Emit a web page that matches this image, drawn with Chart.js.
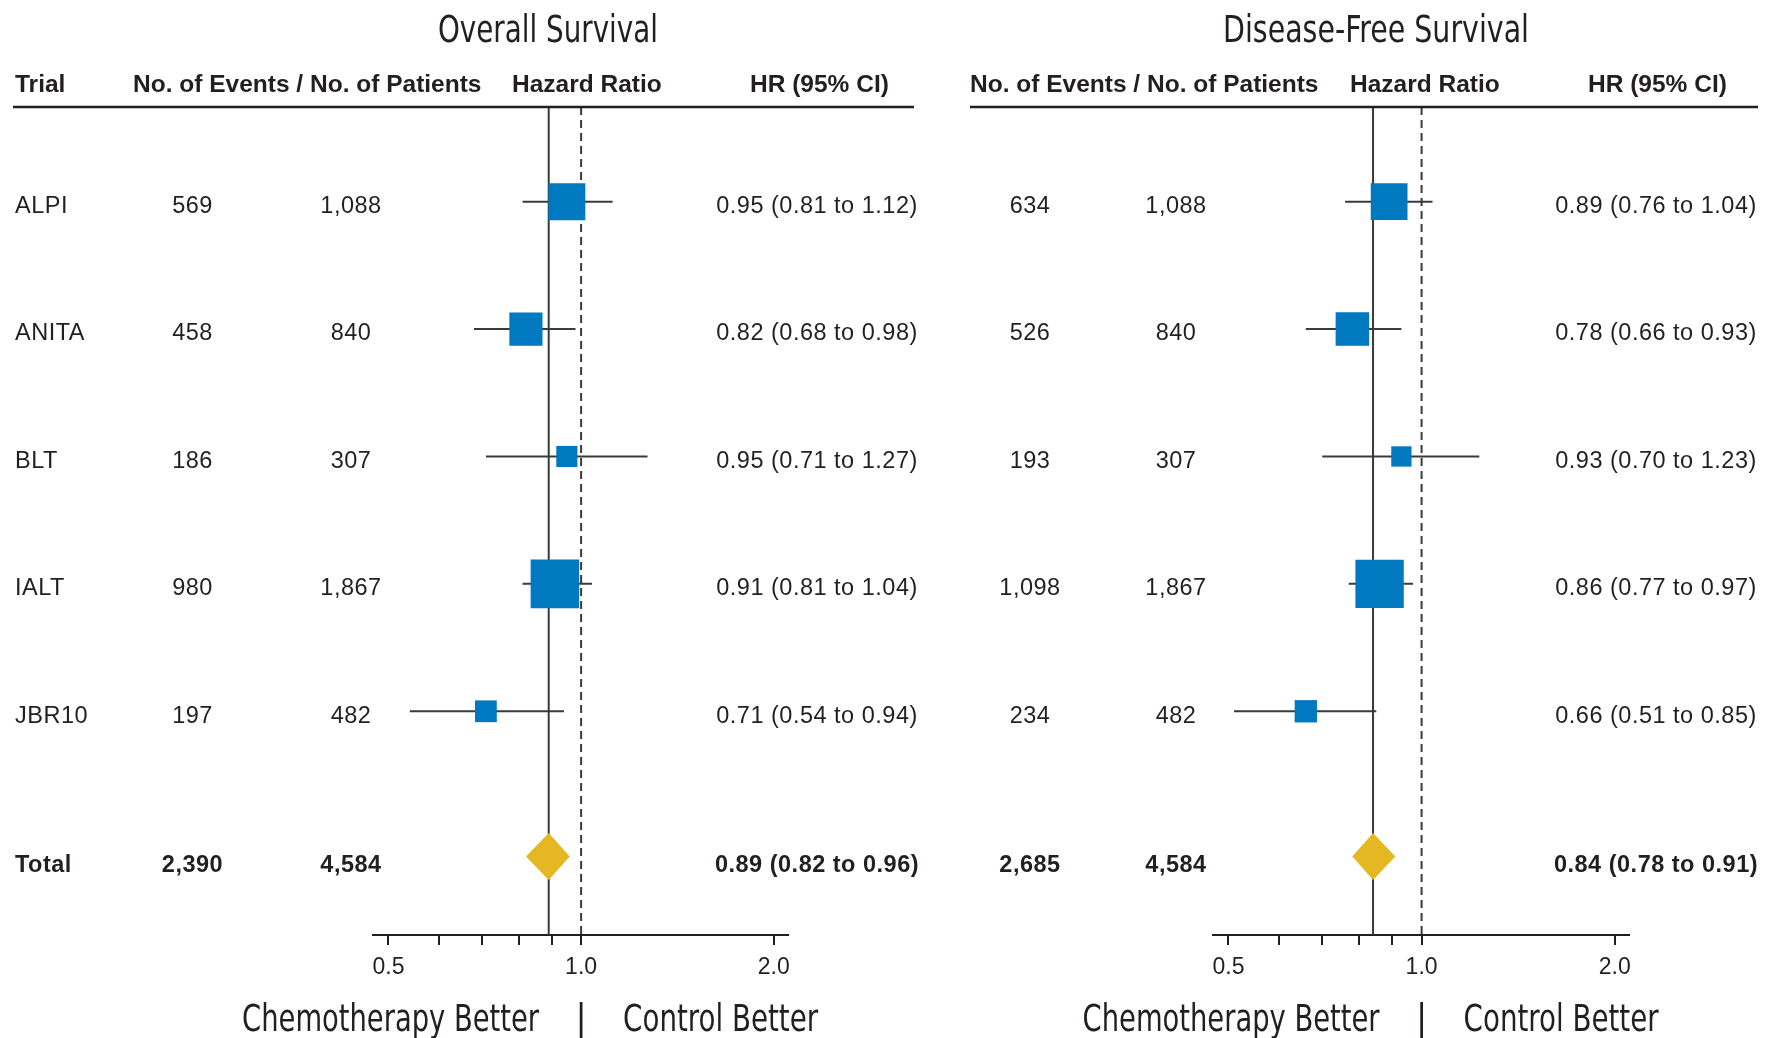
<!DOCTYPE html>
<html>
<head>
<meta charset="utf-8">
<title>Adjuvant chemotherapy meta-analysis: forest plots</title>
<script src="https://cdn.jsdelivr.net/npm/chart.js@4.4.1/dist/chart.umd.min.js"></script>
<style>
  html, body { margin: 0; padding: 0; background: #ffffff; }
  #page { position: relative; width: 1765px; height: 1038px; overflow: hidden; background: #fff; }
  .panel { position: absolute; top: 0; }
</style>
</head>
<body>
<div id="page">
  <canvas id="osCanvas" class="panel" width="940" height="1038" style="left:0px"></canvas>
  <canvas id="dfsCanvas" class="panel" width="825" height="1038" style="left:940px"></canvas>
</div>
<script>
// ---------------- data ----------------
const trials = ['ALPI', 'ANITA', 'BLT', 'IALT', 'JBR10'];
const patients = [1088, 840, 307, 1867, 482];
const totalPatients = 4584;

// Overall survival
const osEvents = [569, 458, 186, 980, 197];
const osHR     = [0.95, 0.82, 0.95, 0.91, 0.71];
const osLow    = [0.81, 0.68, 0.71, 0.81, 0.54];
const osHigh   = [1.12, 0.98, 1.27, 1.04, 0.94];
const osTotalEvents = 2390;
const osTotalHR = [0.89, 0.82, 0.96];   // estimate, lower, upper

// Disease-free survival
const dfsEvents = [634, 526, 193, 1098, 234];
const dfsHR     = [0.89, 0.78, 0.93, 0.86, 0.66];
const dfsLow    = [0.76, 0.66, 0.70, 0.77, 0.51];
const dfsHigh   = [1.04, 0.93, 1.23, 0.97, 0.85];
const dfsTotalEvents = 2685;
const dfsTotalHR = [0.84, 0.78, 0.91];

// hazard-ratio axis
const axisTicks  = [0.5, 0.6, 0.7, 0.8, 0.9, 1.0, 2.0];
const axisLabels = [0.5, 1.0, 2.0];

// ---------------- styling / layout ----------------
const INK = '#231f20';
const WHISKER = '#3a3a3a';
const BLUE = '#0079c1';
const GOLD = '#e5b823';
const SANS = '"Liberation Sans", Arial, Helvetica, sans-serif';
const NARROW = '"Liberation Sans Narrow", "Arial Narrow", "DejaVu Sans Condensed", ' + SANS;

const PLOT_TOP = 107;          // header rule / top of plotting area
const AXIS_BAND = 103;         // height reserved under the axis line
const Y_MIN = -0.743, Y_MAX = 5.756;
const X_MIN = 0.473, X_MAX = 2.105;
const TOTAL_GAP = 1.14;        // extra spacing before the pooled row
const DIAMOND_HALF = 0.185;    // half height of the pooled diamond (row units)

function fmtInt(n) { return n.toLocaleString('en-US'); }
function fmtHR(h, lo, hi) { return h.toFixed(2) + ' (' + lo.toFixed(2) + ' to ' + hi.toFixed(2) + ')'; }

function capText(ctx, text, x, cy, size, align, maxW) {
  ctx.textAlign = align;
  ctx.textBaseline = 'alphabetic';
  const y = cy + 0.358 * size;
  if (maxW) ctx.fillText(text, x, y, maxW); else ctx.fillText(text, x, y);
}

// Table text, titles and direction labels drawn around the plot
const tablePlugin = {
  id: 'forestTable',
  afterDraw(chart, args, o) {
    const ctx = chart.ctx;
    const ys = chart.scales.y, xs = chart.scales.x;
    const off = o.offset;
    ctx.save();
    ctx.fillStyle = INK;

    // panel title
    ctx.font = '37px ' + NARROW;
    capText(ctx, o.title, o.titleX - off, 28.3, 37, 'center', o.titleW);

    // column headers
    ctx.font = 'bold 24.5px ' + SANS;
    o.headers.forEach(h => capText(ctx, h[0], h[1] - off, 82.8, 24.5, 'left'));

    // header rule
    ctx.strokeStyle = INK;
    ctx.lineWidth = 2.5;
    ctx.beginPath();
    ctx.moveTo(o.rule[0] - off, PLOT_TOP);
    ctx.lineTo(o.rule[1] - off, PLOT_TOP);
    ctx.stroke();

    // trial rows
    ctx.font = '23.5px ' + SANS;
    ctx.letterSpacing = '0.5px';
    trials.forEach((t, i) => {
      const cy = ys.getPixelForValue(i) + 3;
      if (o.nameX !== null) capText(ctx, t, o.nameX - off, cy, 23.5, 'left');
      capText(ctx, fmtInt(o.events[i]), o.eventsX - off, cy, 23.5, 'center');
      capText(ctx, fmtInt(patients[i]), o.patientsX - off, cy, 23.5, 'center');
      capText(ctx, fmtHR(o.hr[i], o.low[i], o.high[i]), o.hrX - off, cy, 23.5, 'center');
    });

    // pooled row
    ctx.font = 'bold 23.5px ' + SANS;
    const ty = ys.getPixelForValue(o.totalPos) + 7;
    if (o.nameX !== null) capText(ctx, 'Total', o.nameX - off, ty, 23.5, 'left');
    capText(ctx, fmtInt(o.totalEvents), o.eventsX - off, ty, 23.5, 'center');
    capText(ctx, fmtInt(totalPatients), o.patientsX - off, ty, 23.5, 'center');
    capText(ctx, fmtHR(o.total[0], o.total[1], o.total[2]), o.hrX - off, ty, 23.5, 'center');
    ctx.letterSpacing = '0px';

    // direction labels under the axis
    const one = xs.getPixelForValue(1);
    ctx.font = '37px ' + NARROW;
    capText(ctx, 'Chemotherapy Better', one - 42, 1018, 37, 'right', 297);
    capText(ctx, '|', one, 1018, 37, 'center');
    capText(ctx, 'Control Better', one + 42, 1018, 37, 'left', 195);
    ctx.restore();
  }
};

function buildPanel(canvasId, p) {
  const totalPos = trials.length - 1 + TOTAL_GAP;
  const datasets = [];

  // confidence-interval whiskers
  trials.forEach((t, i) => {
    datasets.push({
      type: 'line', label: t + ' CI',
      data: [{ x: p.low[i], y: i }, { x: p.high[i], y: i }],
      borderColor: WHISKER, borderWidth: 2, pointRadius: 0, fill: false,
      clip: false, order: 3
    });
  });

  // vertical reference lines: pooled estimate (solid) and no effect (dashed)
  datasets.push({
    type: 'line', label: 'pooled',
    data: [{ x: p.total[0], y: Y_MIN }, { x: p.total[0], y: Y_MAX }],
    borderColor: WHISKER, borderWidth: 2, pointRadius: 0, fill: false, clip: false, order: 4
  });
  datasets.push({
    type: 'line', label: 'no effect',
    data: [{ x: 1, y: Y_MIN }, { x: 1, y: Y_MAX }],
    borderColor: WHISKER, borderWidth: 2, borderDash: [8, 5], pointRadius: 0, fill: false, clip: false, order: 4
  });

  // per-trial estimates, box area scaled by number of events
  datasets.push({
    type: 'line', label: 'HR', showLine: false,
    data: p.hr.map((h, i) => ({ x: h, y: i })),
    pointStyle: 'rect',
    pointRadius: p.events.map(e => p.boxScale * Math.sqrt(e) / Math.SQRT2),
    pointBackgroundColor: BLUE, pointBorderWidth: 0, pointBorderColor: BLUE,
    clip: false, order: 1
  });

  // pooled diamond spanning the pooled confidence interval
  const [th, tl, tu] = p.total;
  datasets.push({
    type: 'line', label: 'Total',
    data: [
      { x: tl, y: totalPos }, { x: th, y: totalPos - DIAMOND_HALF },
      { x: tu, y: totalPos }, { x: th, y: totalPos + DIAMOND_HALF },
      { x: tl, y: totalPos }
    ],
    borderWidth: 0, borderColor: GOLD, backgroundColor: GOLD,
    fill: 'shape', pointRadius: 0, tension: 0, clip: false, order: 0
  });

  return new Chart(document.getElementById(canvasId), {
    type: 'line',
    data: { datasets },
    plugins: [tablePlugin],
    options: {
      responsive: false,
      animation: false,
      events: [],
      layout: { autoPadding: false, padding: { left: p.padL, right: p.padR, top: PLOT_TOP, bottom: 0 } },
      scales: {
        x: {
          type: 'logarithmic', min: X_MIN, max: X_MAX,
          afterFit(s) { s.height = AXIS_BAND; },
          afterBuildTicks(s) { s.ticks = axisTicks.map(v => ({ value: v })); },
          ticks: {
            autoSkip: false, maxRotation: 0, minRotation: 0, padding: 9,
            color: INK, font: { family: SANS, size: 23 },
            callback: v => axisLabels.includes(v) ? v.toFixed(1) : ''
          },
          grid: { display: true, drawOnChartArea: false, drawTicks: true, tickLength: 10, color: INK, lineWidth: 2 },
          border: { display: true, color: INK, width: 2 }
        },
        y: { type: 'linear', min: Y_MIN, max: Y_MAX, reverse: true, display: false }
      },
      plugins: {
        legend: { display: false },
        tooltip: { enabled: false },
        forestTable: {
          offset: p.offset, title: p.title, titleX: p.titleX, titleW: p.titleW,
          headers: p.headers, rule: p.rule,
          nameX: p.nameX, eventsX: p.eventsX, patientsX: p.patientsX, hrX: p.hrX,
          events: p.events, hr: p.hr, low: p.low, high: p.high,
          total: p.total, totalEvents: p.totalEvents, totalPos
        }
      }
    }
  });
}

buildPanel('osCanvas', {
  offset: 0, padL: 373, padR: 940 - 788,
  title: 'Overall Survival', titleX: 548, titleW: 220,
  headers: [['Trial', 15], ['No. of Events / No. of Patients', 133], ['Hazard Ratio', 512], ['HR (95% CI)', 750]],
  rule: [13, 914],
  nameX: 15, eventsX: 192.5, patientsX: 351, hrX: 817,
  events: osEvents, hr: osHR, low: osLow, high: osHigh,
  total: osTotalHR, totalEvents: osTotalEvents, boxScale: 1.55
});

buildPanel('dfsCanvas', {
  offset: 940, padL: 1213 - 940, padR: 1765 - 940 - (1629 - 940),
  title: 'Disease-Free Survival', titleX: 1376, titleW: 306,
  headers: [['No. of Events / No. of Patients', 970], ['Hazard Ratio', 1350], ['HR (95% CI)', 1588]],
  rule: [970, 1758],
  nameX: null, eventsX: 1030, patientsX: 1176, hrX: 1656,
  events: dfsEvents, hr: dfsHR, low: dfsLow, high: dfsHigh,
  total: dfsTotalHR, totalEvents: dfsTotalEvents, boxScale: 1.46
});
</script>
</body>
</html>
